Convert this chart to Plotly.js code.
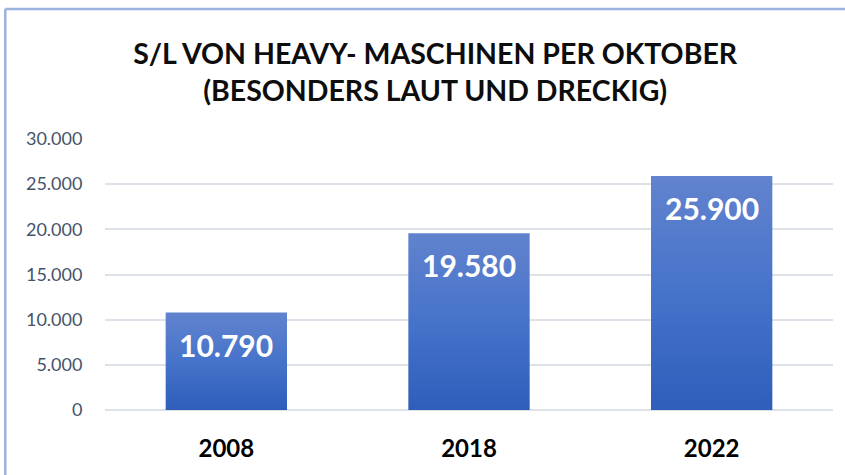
<!DOCTYPE html>
<html>
<head>
<meta charset="utf-8">
<script src="https://cdn.plot.ly/plotly-3.0.1.min.js"></script>
<style>
html,body{margin:0;padding:0;background:#fff;}
#chart{width:845px;height:475px;}
</style>
</head>
<body>
<div id="chart"></div>
<script>
var categories = ['2008', '2018', '2022'];
var values = [10790, 19580, 25900];
var tickValues = [0, 5000, 10000, 15000, 20000, 25000, 30000];
var titleLines = ['S/L VON HEAVY- MASCHINEN PER OKTOBER', '(BESONDERS LAUT UND DRECKIG)'];

function fmt(v) {
  return String(v).replace(/\B(?=(\d{3})+(?!\d))/g, '.');
}

var trace = {
  type: 'bar',
  x: categories,
  y: values,
  marker: {color: '#4472C4', line: {width: 0}},
  hoverinfo: 'none'
};

// category axes take the serial index of the category for annotations
var annotations = categories.map(function (c, i) {
  return {
    x: i, y: values[i], xref: 'x', yref: 'y',
    text: '<b>' + fmt(values[i]) + '</b>', showarrow: false,
    yanchor: 'middle', yshift: -32,
    font: {family: 'Lato, sans-serif', size: 30, color: '#ffffff'}
  };
});

var layout = {
  width: 845, height: 475,
  margin: {l: 105, r: 12, t: 139, b: 65},
  paper_bgcolor: '#ffffff',
  plot_bgcolor: '#ffffff',
  showlegend: false,
  bargap: 0.5,
  title: {
    text: '<b>' + titleLines.join('<br>') + '</b>',
    x: 0.515, xref: 'container', xanchor: 'center',
    y: 0.866, yref: 'container', yanchor: 'top',
    font: {family: 'Lato, sans-serif', size: 28.5, color: '#0d0d0d'}
  },
  xaxis: {
    type: 'category',
    range: [-0.5, categories.length - 0.5],
    tickvals: categories,
    ticktext: categories.map(function (c) { return '<b>' + c + '</b>'; }),
    showgrid: false, zeroline: false, showline: false,
    ticks: 'outside', ticklen: 17, tickcolor: 'rgba(0,0,0,0)',
    tickfont: {family: 'Lato, sans-serif', size: 24, color: '#000000'}
  },
  yaxis: {
    range: [0, 30000],
    tickvals: tickValues,
    ticktext: tickValues.map(fmt),
    showgrid: true, gridcolor: '#DDE1E8', gridwidth: 1.5,
    zeroline: true, zerolinecolor: '#DDE1E8', zerolinewidth: 1.5,
    showline: false,
    ticks: 'outside', ticklen: 18, tickcolor: 'rgba(0,0,0,0)',
    tickfont: {family: 'Lato, sans-serif', size: 18, color: '#44546A'}
  },
  annotations: annotations,
  shapes: [
    {type: 'line', xref: 'paper', yref: 'paper', x0: -0.137, x1: 1.1, y0: 1.48, y1: 1.48,
     line: {color: '#9DB3DF', width: 2.5}},
    {type: 'line', xref: 'paper', yref: 'paper', x0: -0.137, x1: -0.137, y0: 1.48, y1: -0.3,
     line: {color: '#9DB3DF', width: 2.5}}
  ]
};

Plotly.newPlot('chart', [trace], layout, {displayModeBar: false}).then(function (gd) {
  var svg = gd.querySelector('svg.main-svg');
  var ns = 'http://www.w3.org/2000/svg';
  var defs = svg.querySelector('defs');
  var grad = document.createElementNS(ns, 'linearGradient');
  grad.setAttribute('id', 'barGrad');
  grad.setAttribute('x1', '0'); grad.setAttribute('y1', '0');
  grad.setAttribute('x2', '0'); grad.setAttribute('y2', '1');
  [['0', '#6283CE'], ['0.5', '#4673CA'], ['1', '#2E5EBA']].forEach(function (s) {
    var st = document.createElementNS(ns, 'stop');
    st.setAttribute('offset', s[0]);
    st.setAttribute('stop-color', s[1]);
    grad.appendChild(st);
  });
  defs.appendChild(grad);
  gd.querySelectorAll('.bars .point path').forEach(function (p) {
    p.style.fill = 'url(#barGrad)';
  });
});
</script>
</body>
</html>
